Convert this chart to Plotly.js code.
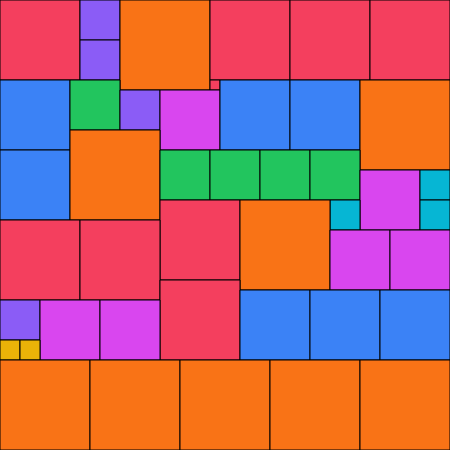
<!DOCTYPE html>
<html><head><meta charset="utf-8">
<script src="https://cdn.plot.ly/plotly-3.0.1.min.js"></script>
<style>html,body{margin:0;padding:0;background:#fff}#c{width:450px;height:450px}</style>
</head><body><div id="c"></div>
<script>
// square packing: left, top, side length, colour group
const xs    = [0,80,80,120,210,290,370,210, 0,70,120,160,220,290,360, 0,70,160,210,260,310,360,420,420,330,160,240,0,80,330,390,160,240,310,380,0,40,100,0,20, 0,90,180,270,360];
const ys    = [0,0,40,0,0,0,0,80, 80,80,90,90,80,80,80, 150,130,150,150,150,150,170,170,200,200,200,200,220,220,230,230,280,290,290,290,300,300,300,340,340, 360,360,360,360,360];
const sizes = [80,40,40,90,80,80,80,10, 70,50,40,60,70,70,90, 70,90,50,50,50,50,60,30,30,30,80,90,80,80,60,60,80,70,70,70,40,60,60,20,20, 90,90,90,90,90];
const groups= ["red","purple","purple","orange","red","red","red","red","blue","green","purple","magenta","blue","blue","orange","blue","orange","green","green","green","green","magenta","cyan","cyan","cyan","red","orange","red","red","magenta","magenta","red","blue","blue","blue","purple","magenta","magenta","yellow","yellow","orange","orange","orange","orange","orange"];
const palette = {red:"#f43f5e",purple:"#8b5cf6",orange:"#f97316",blue:"#3b82f6",green:"#22c55e",magenta:"#d946ef",cyan:"#06b6d4",yellow:"#eab308"};

const traces = xs.map((x,i)=>{
  const y=ys[i], s=sizes[i];
  return {type:"scatter",mode:"lines",fill:"toself",
    x:[x,x+s,x+s,x,x], y:[y,y,y+s,y+s,y],
    fillcolor:palette[groups[i]], line:{color:"#000",width:1},
    hoverinfo:"skip", showlegend:false};
});
Plotly.newPlot("c",traces,{
  width:450,height:450,margin:{l:0,r:0,t:0,b:0},
  paper_bgcolor:"#fff",plot_bgcolor:"#fff",
  xaxis:{range:[0,450],visible:false,fixedrange:true},
  yaxis:{range:[450,0],visible:false,fixedrange:true},
  showlegend:false
},{staticPlot:true,displayModeBar:false});
</script></body></html>
